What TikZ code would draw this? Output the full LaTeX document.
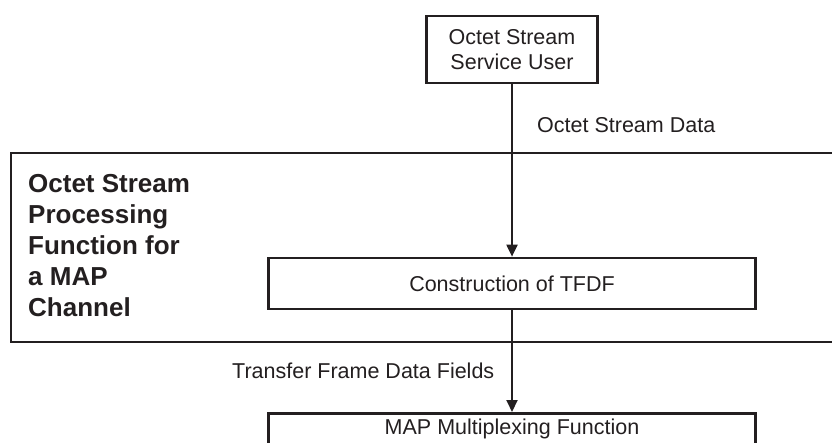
\documentclass[tikz,border=0pt]{standalone}
\usepackage{fontspec}
\setmainfont{Liberation Sans}
\usetikzlibrary{arrows.meta}
\definecolor{encre}{HTML}{231F20}

\begin{document}
\begin{tikzpicture}[x=1pt, y=-1pt,
    boite/.style={rectangle, draw=encre, line width=2.7pt, inner sep=0pt, text=encre,
        font=\fontsize{21.5}{25}\selectfont},
    texte/.style={inner sep=0pt, text=encre, font=\fontsize{21.5}{25}\selectfont},
    fleche/.style={-{Triangle[length=12pt, width=11pt]}, draw=encre, line width=2pt}]
    \useasboundingbox (0,0) rectangle (832,443);

    % Cadre de la fonction de traitement (ouvert à droite)
    \node[boite, minimum width=849pt, minimum height=189pt] (proc) at (435.5,247.5) {};
    \node[texte, anchor=north west, align=left, font=\fontsize{26}{31}\selectfont\bfseries] (titre) at (28,174)
        {Octet Stream\\Processing\\Function for\\a MAP\\Channel};

    % Boîtes
    \node[boite, minimum width=171pt, minimum height=67pt, align=center] (user) at (512,49.5) {Octet Stream\\Service User};
    \node[boite, minimum width=487pt, minimum height=51pt] (tfdf) at (512,283.5) {Construction of TFDF};
    \node[boite, minimum width=487pt, anchor=north, text height=21pt, text depth=40pt] (mux) at (512,412) {MAP Multiplexing Function};

    % Flèches et étiquettes
    \draw[fleche] (user) -- (tfdf);
    \draw[fleche] (tfdf) -- (mux);
    \node[texte, anchor=base west] (donnees) at (537,132.5) {Octet Stream Data};
    \node[texte, anchor=base west] (champs) at (232,378) {Transfer Frame Data Fields};

\end{tikzpicture}
\end{document}
